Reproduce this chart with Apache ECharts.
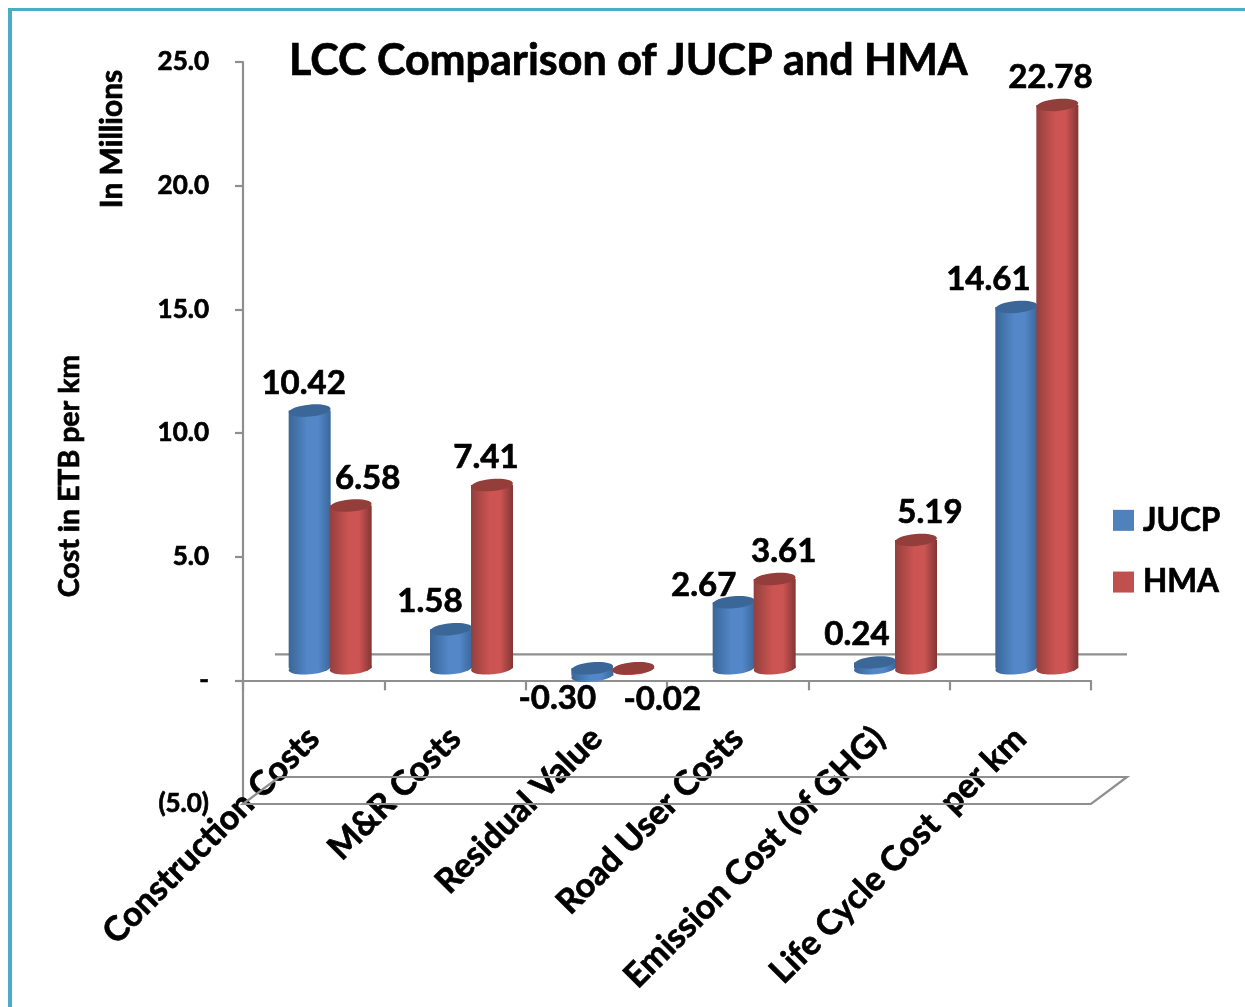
<!DOCTYPE html>
<html>
<head>
<meta charset="utf-8">
<title>LCC Comparison of JUCP and HMA</title>
<style>
  html, body { margin: 0; padding: 0; background: #fff; }
  #chart { width: 1245px; height: 1007px; }
</style>
<script src="https://cdn.jsdelivr.net/npm/echarts@6/dist/echarts.min.js"></script>
</head>
<body>
<div id="chart"></div>
<script>
const categories = [
  "Construction Costs",
  "M&R Costs",
  "Residual Value",
  "Road User Costs",
  "Emission Cost (of GHG)",
  "Life Cycle Cost  per km",
];
const jucp = [10.42, 1.58, -0.3, 2.67, 0.24, 14.61];
const hma = [6.58, 7.41, -0.02, 3.61, 5.19, 22.78];

// hand placed value labels [dx, dy] from the top of each cylinder
const jucpLabelOffset = [[-6, -27], [-21, -28], [-35, 30], [-30, -17], [-18, -28], [-28, -28]];
const hmaLabelOffset = [[17, -27], [-6, -28], [29, 31], [9, -28], [14, -28], [-7, -28]];

const FONT = "Lato";
const GREY = "#8f8f8f";
// Lato bold is a bit thin next to the original, thicken it slightly
const heavy = { textBorderColor: "#000", textBorderWidth: 0.7 };

const chart = echarts.init(document.getElementById("chart"));

// the picture is a fake 3D excel chart, bars float a little behind the axis
const cylinder = (barDx, edge, mid, dark, cap, offsets) => (params, api) => {
  const i = api.value(0);
  const v = api.value(1);
  const center = api.coord([i, v]);
  const zero = api.coord([i, 0]);
  const cx = center[0] + barDx;
  const top = Math.min(center[1], zero[1]) - 12;
  const bottom = Math.max(center[1], zero[1]) - 12;
  const r = 21;
  const fill = new echarts.graphic.LinearGradient(0, 0, 1, 0, [
    { offset: 0, color: edge },
    { offset: 0.45, color: mid },
    { offset: 0.7, color: mid },
    { offset: 1, color: dark },
  ]);
  const ell = (cy, color) => ({
    type: "ellipse",
    x: cx,
    y: cy,
    rotation: 0.09,
    shape: { cx: 0, cy: 0, rx: r, ry: 6 },
    style: { fill: color },
  });
  const off = offsets[i];
  return {
    type: "group",
    children: [
      ell(bottom, fill),
      {
        type: "rect",
        shape: { x: cx - r, y: top, width: r * 2, height: bottom - top },
        style: { fill: fill },
      },
      ell(top, cap),
      {
        type: "text",
        x: cx + off[0],
        y: top + off[1],
        z2: 50,
        style: {
          text: v.toFixed(2),
          fill: "#000",
          stroke: "#000",
          lineWidth: 0.7,
          font: "bold 33px " + FONT,
          align: "center",
          verticalAlign: "middle",
        },
      },
    ],
  };
};

const floor = (params, api) => {
  const box = params.coordSys;
  const x0 = box.x;
  const x1 = box.x + box.width;
  const low = api.coord([0, -5])[1];
  const zero = api.coord([0, 0])[1];
  const line = { stroke: GREY, lineWidth: 2.2, fill: null };
  return {
    type: "group",
    children: [
      {
        type: "polygon",
        shape: { points: [[x0, low], [x1, low], [x1 + 36, low - 27], [x0 + 36, low - 27]] },
        style: line,
      },
      {
        type: "line",
        shape: { x1: x0 + 32, y1: zero - 26, x2: x1 + 36, y2: zero - 26 },
        style: line,
      },
    ],
  };
};

const options = {
  animation: false,
  backgroundColor: "#fff",
  textStyle: { fontFamily: FONT },
  title: {
    text: "LCC Comparison of JUCP and HMA",
    left: 284,
    top: 35,
    textStyle: { fontFamily: FONT, fontSize: 43, fontWeight: "bold", color: "#000", ...heavy },
  },
  legend: {
    orient: "vertical",
    left: 1108,
    top: 499,
    itemWidth: 21,
    itemHeight: 21,
    itemGap: 29,
    itemStyle: { borderWidth: 0 },
    icon: "rect",
    data: ["JUCP", "HMA"],
    textStyle: {
      fontFamily: FONT,
      fontSize: 31.5,
      fontWeight: "bold",
      color: "#000",
      padding: [0, 0, 0, 4],
      ...heavy,
    },
  },
  grid: { left: 243, top: 62, width: 848, height: 742, outerBoundsMode: "none" },
  xAxis: {
    type: "category",
    data: categories,
    axisLine: { onZero: true, lineStyle: { color: GREY, width: 2.2 } },
    axisTick: { show: true, length: 10, interval: 0, lineStyle: { color: GREY, width: 2.2 } },
    axisLabel: {
      interval: 0,
      rotate: 45,
      // labels stay at the grid bottom, pull them back up under the zero line
      margin: -71,
      color: "#000",
      fontFamily: FONT,
      fontSize: 34,
      fontWeight: "bold",
      ...heavy,
    },
  },
  yAxis: {
    type: "value",
    min: -5,
    max: 25,
    interval: 5,
    name: "Cost in ETB per km",
    nameLocation: "middle",
    nameGap: 159,
    nameTextStyle: {
      fontFamily: FONT,
      fontSize: 28.5,
      fontWeight: "bold",
      color: "#000",
      padding: [0, 86, 0, 0],
      ...heavy,
    },
    splitLine: { show: false },
    axisLine: { show: true, lineStyle: { color: GREY, width: 2.2 } },
    axisTick: {
      show: true,
      length: 8,
      customValues: [0, 5, 10, 15, 20, 25],
      lineStyle: { color: GREY, width: 2.2 },
    },
    axisLabel: {
      margin: 34,
      padding: [6, 0, 0, 0],
      color: "#000",
      fontFamily: FONT,
      fontSize: 26,
      fontWeight: "bold",
      ...heavy,
      formatter: function (value) {
        if (value === 0) return "-";
        if (value < 0) return "(" + Math.abs(value).toFixed(1) + ")";
        return value.toFixed(1);
      },
    },
  },
  graphic: [
    { type: "rect", z: -10, shape: { x: 8, y: 8, width: 1237, height: 3 }, style: { fill: "#4bacc6" } },
    { type: "rect", z: -10, shape: { x: 8, y: 8, width: 4, height: 999 }, style: { fill: "#4bacc6" } },
    {
      type: "text",
      x: 112,
      y: 139,
      rotation: Math.PI / 2,
      style: {
        text: "In Millions",
        fill: "#000",
        stroke: "#000",
        lineWidth: 0.7,
        font: "bold 30px " + FONT,
        align: "center",
        verticalAlign: "middle",
      },
    },
  ],
  series: [
    {
      type: "custom",
      name: "floor",
      silent: true,
      z: 1,
      clip: false,
      renderItem: floor,
      data: [[0, 0]],
    },
    {
      type: "custom",
      name: "JUCP",
      z: 3,
      clip: false,
      itemStyle: { color: "#4f81bd" },
      encode: { x: 0, y: 1 },
      renderItem: cylinder(-4, "#3a6698", "#5387c8", "#3b689c", "#3b6798", jucpLabelOffset),
      data: jucp.map((v, i) => [i, v]),
    },
    {
      type: "custom",
      name: "HMA",
      z: 4,
      clip: false,
      itemStyle: { color: "#c0504d" },
      encode: { x: 0, y: 1 },
      renderItem: cylinder(37, "#93403e", "#cc5452", "#813634", "#943e3c", hmaLabelOffset),
      data: hma.map((v, i) => [i, v]),
    },
  ],
};

chart.setOption(options);
</script>
</body>
</html>
